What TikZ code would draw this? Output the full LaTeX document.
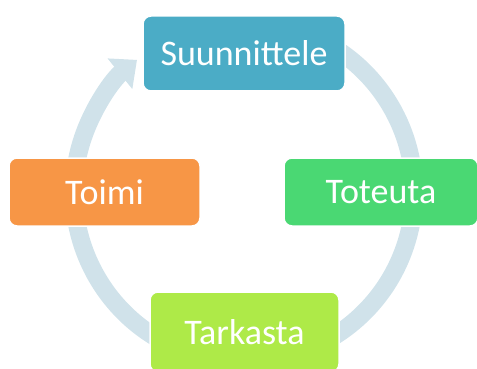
\documentclass[tikz,border=0pt]{standalone}
\usepackage{fontspec}
\setmainfont{Carlito}
\usetikzlibrary{arrows.meta}
\definecolor{ringc}{RGB}{208,226,234}
\definecolor{cblue}{RGB}{75,172,198}
\definecolor{corange}{RGB}{247,150,70}
\definecolor{cgreen}{RGB}{74,216,115}
\definecolor{clime}{RGB}{174,234,72}
\begin{document}
\begin{tikzpicture}[x=1pt,y=-1pt,
  stage/.style={draw=white,line width=1.5pt,rounded corners=8pt,text=white,
    font=\fontsize{36}{42}\selectfont,inner sep=0pt,anchor=center}]
\useasboundingbox (0,0) rectangle (477,369);
\coordinate (c) at (244,192);
\draw[ringc,line width=18pt,-{Triangle[width=38pt,length=22pt]}]
  ([shift={(-70:170)}]c) arc[start angle=-70,end angle=231,radius=170];
\node[stage,fill=cblue,minimum width=202pt,minimum height=75pt] (plan) at (244,53.5) {Suunnittele};
\node[stage,fill=cgreen,minimum width=194pt,minimum height=68pt] (do) at (381,192) {Toteuta};
\node[stage,fill=clime,minimum width=189pt,minimum height=80pt] (check) at (244.5,332) {Tarkasta};
\node[stage,fill=corange,minimum width=191pt,minimum height=68pt] (act) at (104.5,192) {Toimi};
\end{tikzpicture}
\end{document}
